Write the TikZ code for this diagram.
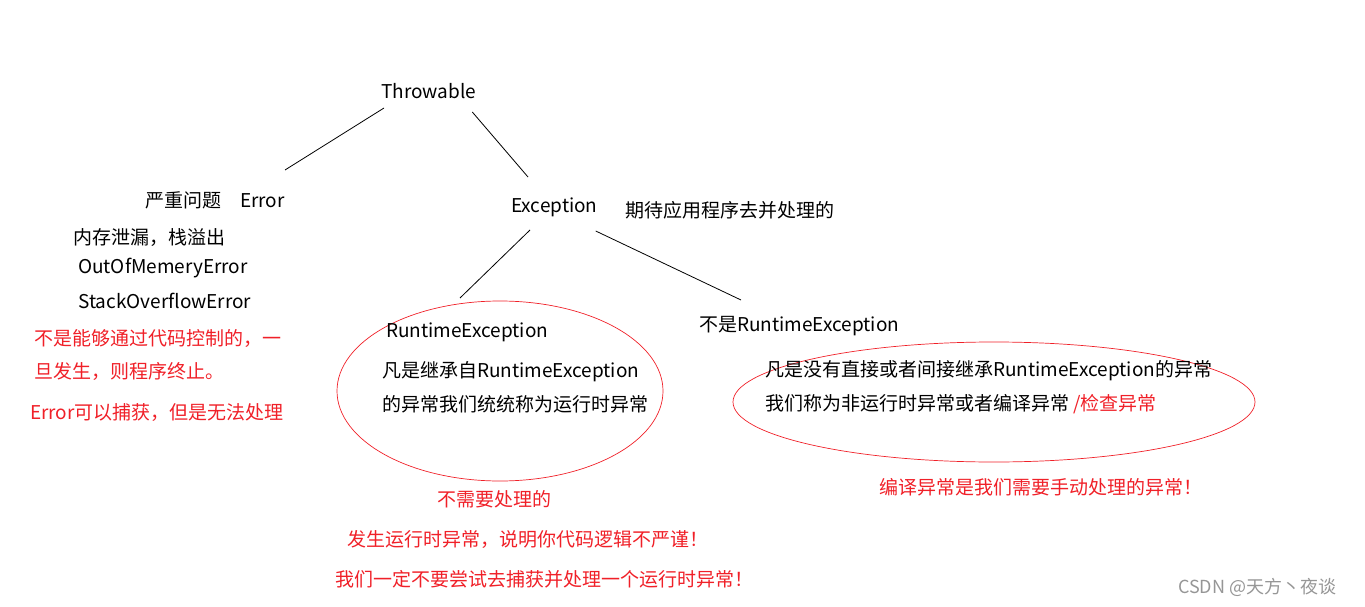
\documentclass[tikz,border=0pt]{standalone}
\usepackage{fontspec}
\setmainfont{Noto Sans CJK SC}
\usetikzlibrary{calc}
\definecolor{warnred}{RGB}{240,32,40}
\definecolor{markgray}{RGB}{150,150,150}

\begin{document}
\begin{tikzpicture}[x=1pt,y=-1pt,
  txt/.style={anchor=west,inner sep=0pt,font=\fontsize{19}{22}\selectfont},
  note/.style={txt,text=warnred},
  link/.style={line width=0.8pt},
  ring/.style={draw=warnred,line width=0.7pt}]
\useasboundingbox (0,0) rectangle (1365,607);

% top of the tree
\node[txt] (throw) at (381,91) {Throwable};
\node[txt] (err) at (145,200) {严重问题\hspace{1em}Error};
\node[txt] (exc) at (511,207) {Exception};
\node[txt] (excnote) at (625,210) {期待应用程序去并处理的};

% error side
\node[txt] (leak) at (73,238) {内存泄漏，栈溢出};
\node[txt] (oom) at (78,268) {OutOfMemeryError};
\node[txt] (soe) at (78,301) {StackOverflowError};
\node[note] (errA) at (34,338) {不是能够通过代码控制的，一};
\node[note] (errB) at (34,371) {旦发生，则程序终止。};
\node[note] (errC) at (30,413) {Error可以捕获，但是无法处理};

% runtime exceptions
\draw[ring] (500,391) ellipse [x radius=163pt, y radius=90pt];
\node[txt] (rt) at (386,332) {RuntimeException};
\node[txt] (rtA) at (382,372) {凡是继承自RuntimeException};
\node[txt] (rtB) at (382,404) {的异常我们统统称为运行时异常};
\node[note] (rtC) at (437,499) {不需要处理的};
\node[note] (rtD) at (347,539) {发生运行时异常，说明你代码逻辑不严谨！};
\node[note] (rtE) at (335,579) {我们一定不要尝试去捕获并处理一个运行时异常！};

% checked exceptions
\draw[ring] (994,402) ellipse [x radius=261pt, y radius=60pt];
\node[txt] (nrt) at (699,326) {不是RuntimeException};
\node[txt] (nrtA) at (765,371) {凡是没有直接或者间接继承RuntimeException的异常};
\node[txt] (nrtB) at (765,404) {我们称为非运行时异常或者编译异常 \textcolor{warnred}{/检查异常}};
\node[note] (nrtC) at (879,487) {编译异常是我们需要手动处理的异常！};

% branches
\draw[link] ($(throw.west)+(3,17)$) -- ($(err.west)+(140,-30)$);
\draw[link] ($(throw.east)+(-4,21)$) -- ($(exc.west)+(17,-30)$);
\draw[link] ($(exc.west)+(19,23)$) -- ($(rt.west)+(74,-34)$);
\draw[link] ($(exc.east)+(-2,24)$) -- ($(nrt.west)+(42,-26)$);

\node[anchor=west,inner sep=0pt,text=markgray,font=\fontsize{18}{20}\selectfont] (mark) at (1178,587) {CSDN @天方丶夜谈};
\end{tikzpicture}
\end{document}
